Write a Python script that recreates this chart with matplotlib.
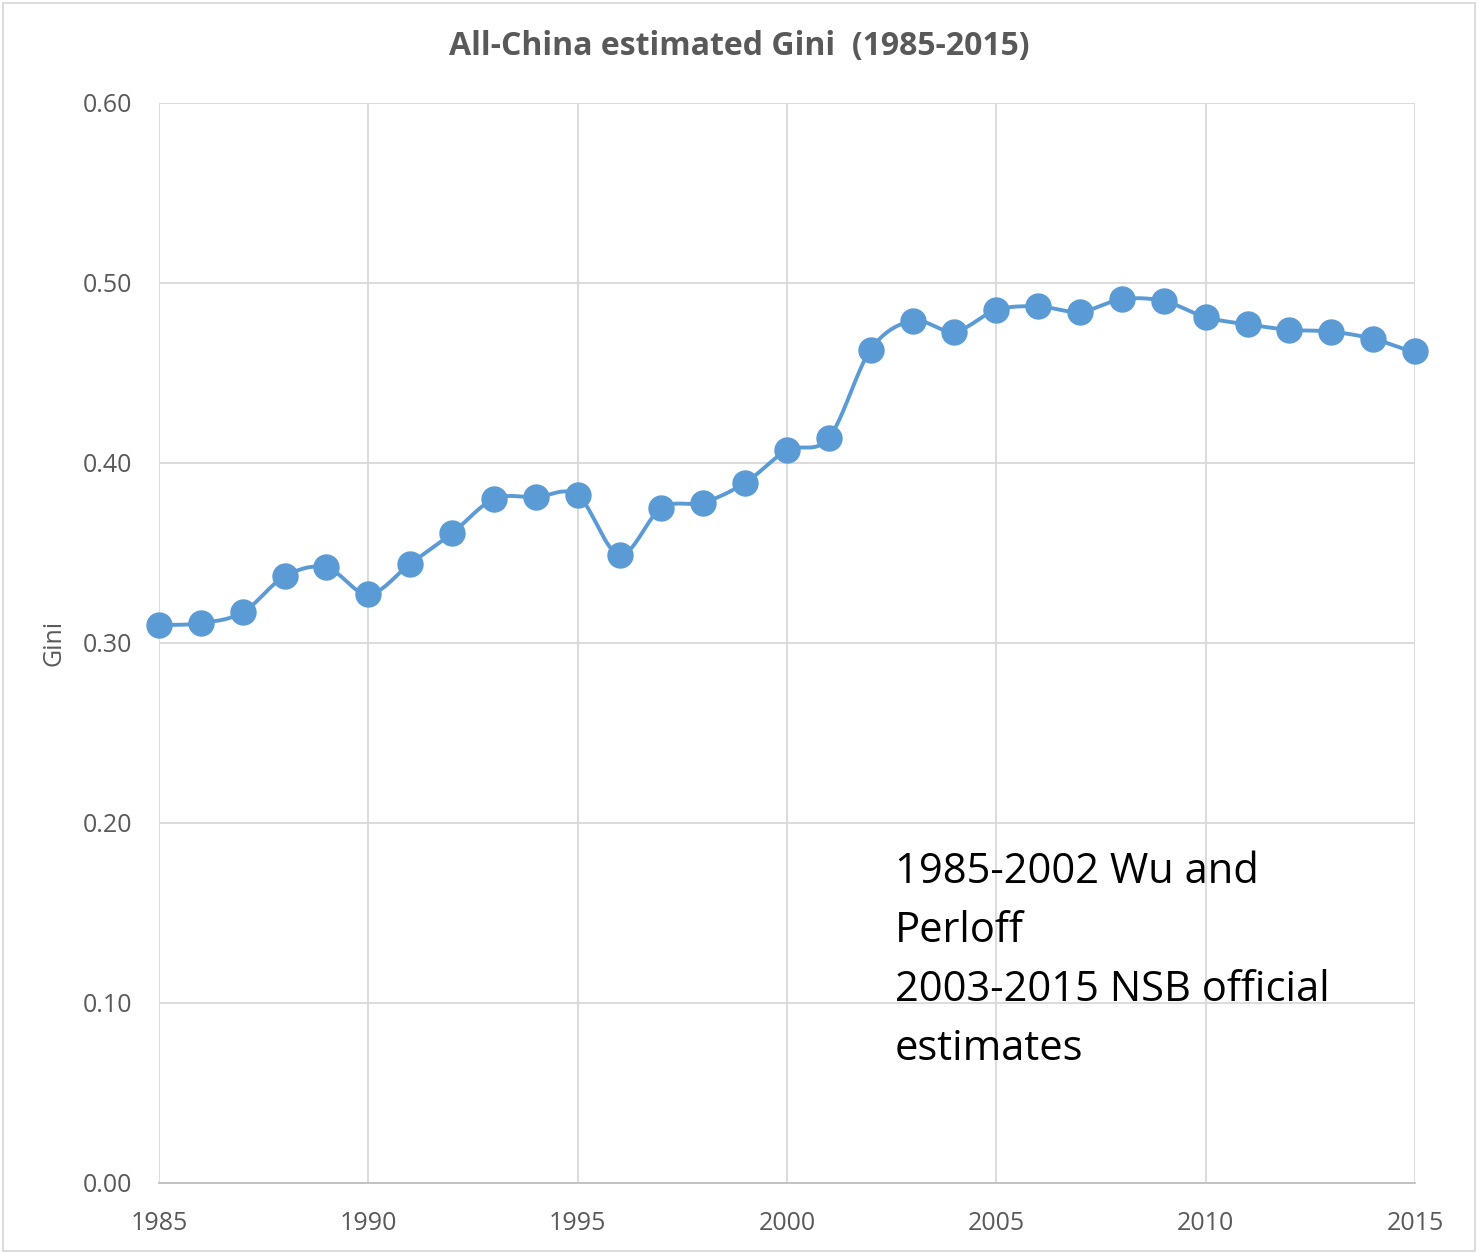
import numpy as np
import matplotlib.pyplot as plt
from matplotlib.patches import Rectangle

years = list(range(1985, 2016))
gini = [0.310, 0.311, 0.317, 0.337, 0.342, 0.327, 0.344, 0.361, 0.380, 0.381,
        0.382, 0.349, 0.375, 0.378, 0.389, 0.407, 0.414, 0.463, 0.479, 0.473,
        0.485, 0.487, 0.484, 0.491, 0.490, 0.481, 0.477, 0.474, 0.473, 0.469,
        0.462]
yticks = [0.0, 0.1, 0.2, 0.3, 0.4, 0.5, 0.6]
xticks = [1985, 1990, 1995, 2000, 2005, 2010, 2015]

BLUE = "#5B9BD5"
GREY = "#595959"
plt.rcParams['font.family'] = ['Open Sans', 'DejaVu Sans']


# smooth line like Excel's "smoothed line" option (Catmull-Rom through the points)
def smooth(x, y, n=20):
    x = np.asarray(x, float)
    y = np.asarray(y, float)
    px = np.concatenate([[2 * x[0] - x[1]], x, [2 * x[-1] - x[-2]]])
    py = np.concatenate([[y[0]], y, [y[-1]]])
    xs, ys = [], []
    t = np.linspace(0, 1, n, endpoint=False)
    for i in range(1, len(px) - 2):
        for arr, out in ((px, xs), (py, ys)):
            p0, p1, p2, p3 = arr[i - 1], arr[i], arr[i + 1], arr[i + 2]
            out.extend(0.5 * ((2 * p1) + (-p0 + p2) * t
                              + (2 * p0 - 5 * p1 + 4 * p2 - p3) * t ** 2
                              + (-p0 + 3 * p1 - 3 * p2 + p3) * t ** 3))
    xs.append(x[-1])
    ys.append(y[-1])
    return np.array(xs), np.array(ys)


fig = plt.figure(figsize=(14.78, 12.54), dpi=100)
ax = fig.add_axes([159 / 1478, 1 - 1183 / 1254, 1256 / 1478, 1080 / 1254])

sx, sy = smooth(years, gini)
ax.plot(sx, sy, color=BLUE, lw=2.8, zorder=3, clip_on=False)
ax.plot(years, gini, "o", color=BLUE, ms=18, zorder=4, clip_on=False)

ax.set_xlim(1985, 2015)
ax.set_ylim(0, 0.6)
ax.set_xticks(xticks)
ax.set_yticks(yticks)
ax.set_yticklabels([f"{v:.2f}" for v in yticks])
ax.tick_params(length=0, labelsize=18, labelcolor=GREY, pad=19)
ax.tick_params(axis="x", pad=20)
ax.grid(True, color="#D9D9D9", lw=1.3)
ax.set_axisbelow(True)
for s in ("top", "right", "left"):
    ax.spines[s].set_visible(False)
ax.spines["bottom"].set_color("#BFBFBF")
ax.spines["bottom"].set_linewidth(1.3)

ax.set_ylabel("Gini", fontsize=18, color=GREY, labelpad=12)
fig.text(0.5, 1 - 47 / 1254, "All-China estimated Gini  (1985-2015)", fontsize=23,
         fontweight="bold", color=GREY, ha="center", va="center")

ax.text(0.586, 0.307, "1985-2002 Wu and\nPerloff\n2003-2015 NSB official\nestimates",
        transform=ax.transAxes, fontsize=30, color="black", va="top", ha="left",
        linespacing=1.53)

fig.patches.append(Rectangle((0.002, 0.002), 0.996, 0.996, transform=fig.transFigure,
                             fill=False, edgecolor="#D9D9D9", lw=1.3))

fig.savefig("out.png", dpi=100)
